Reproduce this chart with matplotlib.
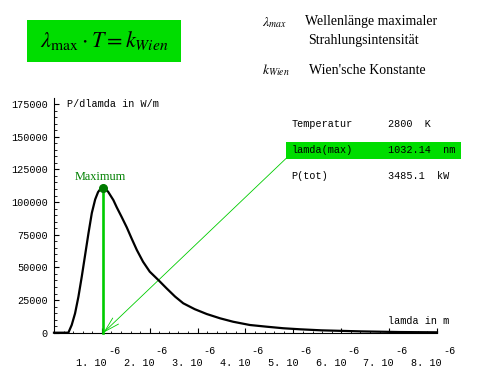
import matplotlib
matplotlib.use('agg')
import matplotlib.pyplot as plt
from matplotlib.patches import Rectangle
import numpy as np

# Wellenlaenge in Mikrometer, P/dlamda in W/m
lam_um = [0.0, 0.30, 0.37, 0.44, 0.51, 0.58, 0.65, 0.72, 0.79, 0.86,
          0.92, 0.97, 1.03, 1.08, 1.13, 1.24, 1.31, 1.41, 1.52, 1.62,
          1.73, 1.86, 2.00, 2.18, 2.35, 2.53, 2.70, 2.94, 3.19, 3.47,
          3.74, 4.09, 4.44, 4.79, 5.14, 5.59, 6.42, 7.22, 8.00]
p_dlam = [0, 0, 5900, 14800, 27500, 42900, 59500, 76100, 91600, 102000,
          107600, 110000, 110500, 109700, 107900, 101500, 96000, 88800, 80600, 72200,
          63300, 54300, 46700, 40300, 34000, 27600, 22500, 18000, 14300, 11000,
          8400, 5900, 4600, 3400, 2600, 1800, 1000, 500, 300]

lam_max_nm = 1032.14
p_max = 110500
temperatur = 2800
p_tot = 3485.1

yticks = [0, 25000, 50000, 75000, 100000, 125000, 150000, 175000]
xticks_um = [1, 2, 3, 4, 5, 6, 7, 8]

MONO = 'Liberation Mono'
SERIF = 'Liberation Serif'
GRUEN = '#00dd00'
plt.rcParams['mathtext.fontset'] = 'stix'

W, H = 484, 370
fig = plt.figure(figsize=(W / 100, H / 100), dpi=100)
ax = fig.add_axes([54 / W, 37.3 / H, 383 / W, 235.2 / H])
ax.set_facecolor('none')

lam = np.array(lam_um) * 1e-6
ax.plot(lam, p_dlam, color='black', lw=1.6, clip_on=False, zorder=3,
        solid_joinstyle='round')

xm = lam_max_nm * 1e-9
ax.plot([xm, xm], [0, p_max], color='#00cc00', lw=1.9, zorder=4, clip_on=False)
ax.plot([xm], [p_max], 'o', color='#007a00', ms=5.5, zorder=5, clip_on=False)
ax.annotate('Maximum', xy=(xm, p_max), xytext=(-3, 11), textcoords='offset pixels',
            ha='center', va='center', color='#008000', family=SERIF, fontsize=8.8)

# duenne Linie vom Kasten zum Maximum
ax.annotate('', xy=(xm, 0), xytext=(286, H - 158.5), textcoords='figure pixels',
            arrowprops=dict(arrowstyle='->,head_length=1.1,head_width=0.3',
                            mutation_scale=10, color='#00cc00', lw=0.6,
                            shrinkA=0, shrinkB=0), zorder=2)

ax.set_xlim(0, 8e-6)
ax.set_ylim(0, 180000)
for s in ['top', 'right']:
    ax.spines[s].set_visible(False)
for s in ['left', 'bottom']:
    ax.spines[s].set_linewidth(0.8)

ax.set_yticks(yticks, [str(v) for v in yticks])
ax.set_yticks(np.arange(0, 180000, 5000), minor=True)
ax.set_xticks(np.array(xticks_um) * 1e-6, [''] * len(xticks_um))
ax.set_xticks(np.arange(0.2, 8.0, 0.2) * 1e-6, minor=True)
ax.tick_params(which='major', direction='in', length=3.5, width=0.8)
ax.tick_params(which='minor', direction='in', length=1.8, width=0.6)
ax.tick_params(axis='y', pad=4.5, labelsize=7.3)
for lab in ax.get_yticklabels():
    lab.set_family(MONO)

for v in xticks_um:
    ax.annotate('%d. 10' % v, xy=(v * 1e-6, 0), xycoords=('data', 'axes fraction'),
                xytext=(5, -30.6), textcoords='offset pixels', ha='right', va='center',
                family=MONO, fontsize=7.3)
    ax.annotate('-6', xy=(v * 1e-6, 0), xycoords=('data', 'axes fraction'),
                xytext=(6, -18), textcoords='offset pixels', ha='left', va='center',
                family=MONO, fontsize=7.3)

# Texte im Pixelraster der Abbildung
def ftext(x, y, s, **kw):
    fig.text(x / W, 1 - y / H, s, **kw)

ftext(66.7, 104, 'P/dlamda in W/m', family=MONO, fontsize=7.3, va='center')
ftext(387.7, 320.7, 'lamda in m', family=MONO, fontsize=7.3, va='center')

fig.add_artist(Rectangle((26.7 / W, 1 - 61.7 / H), (181 - 26.7) / W, (61.7 - 20) / H,
                         transform=fig.transFigure, color=GRUEN, lw=0, zorder=-1))
ftext(104, 41, r'$\lambda_{\max}\cdot T = k_{Wien}$', fontsize=16, ha='center', va='center')

ftext(262, 23, r'$\lambda_{max}$', fontsize=10, va='center')
ftext(305, 22, 'Wellenlänge maximaler', family=SERIF, fontsize=10, va='center')
ftext(308, 40.7, 'Strahlungsintensität', family=SERIF, fontsize=10, va='center')
ftext(262, 70, r'$k_{Wien}$', fontsize=10, va='center')
ftext(309, 70, "Wien'sche Konstante", family=SERIF, fontsize=10, va='center')

fig.add_artist(Rectangle((286 / W, 1 - 159 / H), (461 - 286) / W, (159 - 141.7) / H,
                         transform=fig.transFigure, color=GRUEN, lw=0, zorder=-1))
ftext(291.7, 124, 'Temperatur', family=MONO, fontsize=7.3, va='center')
ftext(387.7, 124, '%d  K' % temperatur, family=MONO, fontsize=7.3, va='center')
ftext(291.7, 150, 'lamda(max)', family=MONO, fontsize=7.3, va='center')
ftext(387.7, 150, '%.2f  nm' % lam_max_nm, family=MONO, fontsize=7.3, va='center')
ftext(291.7, 176, 'P(tot)', family=MONO, fontsize=7.3, va='center')
ftext(387.7, 176, '%.1f  kW' % p_tot, family=MONO, fontsize=7.3, va='center')

plt.savefig('out.png', dpi=100)
